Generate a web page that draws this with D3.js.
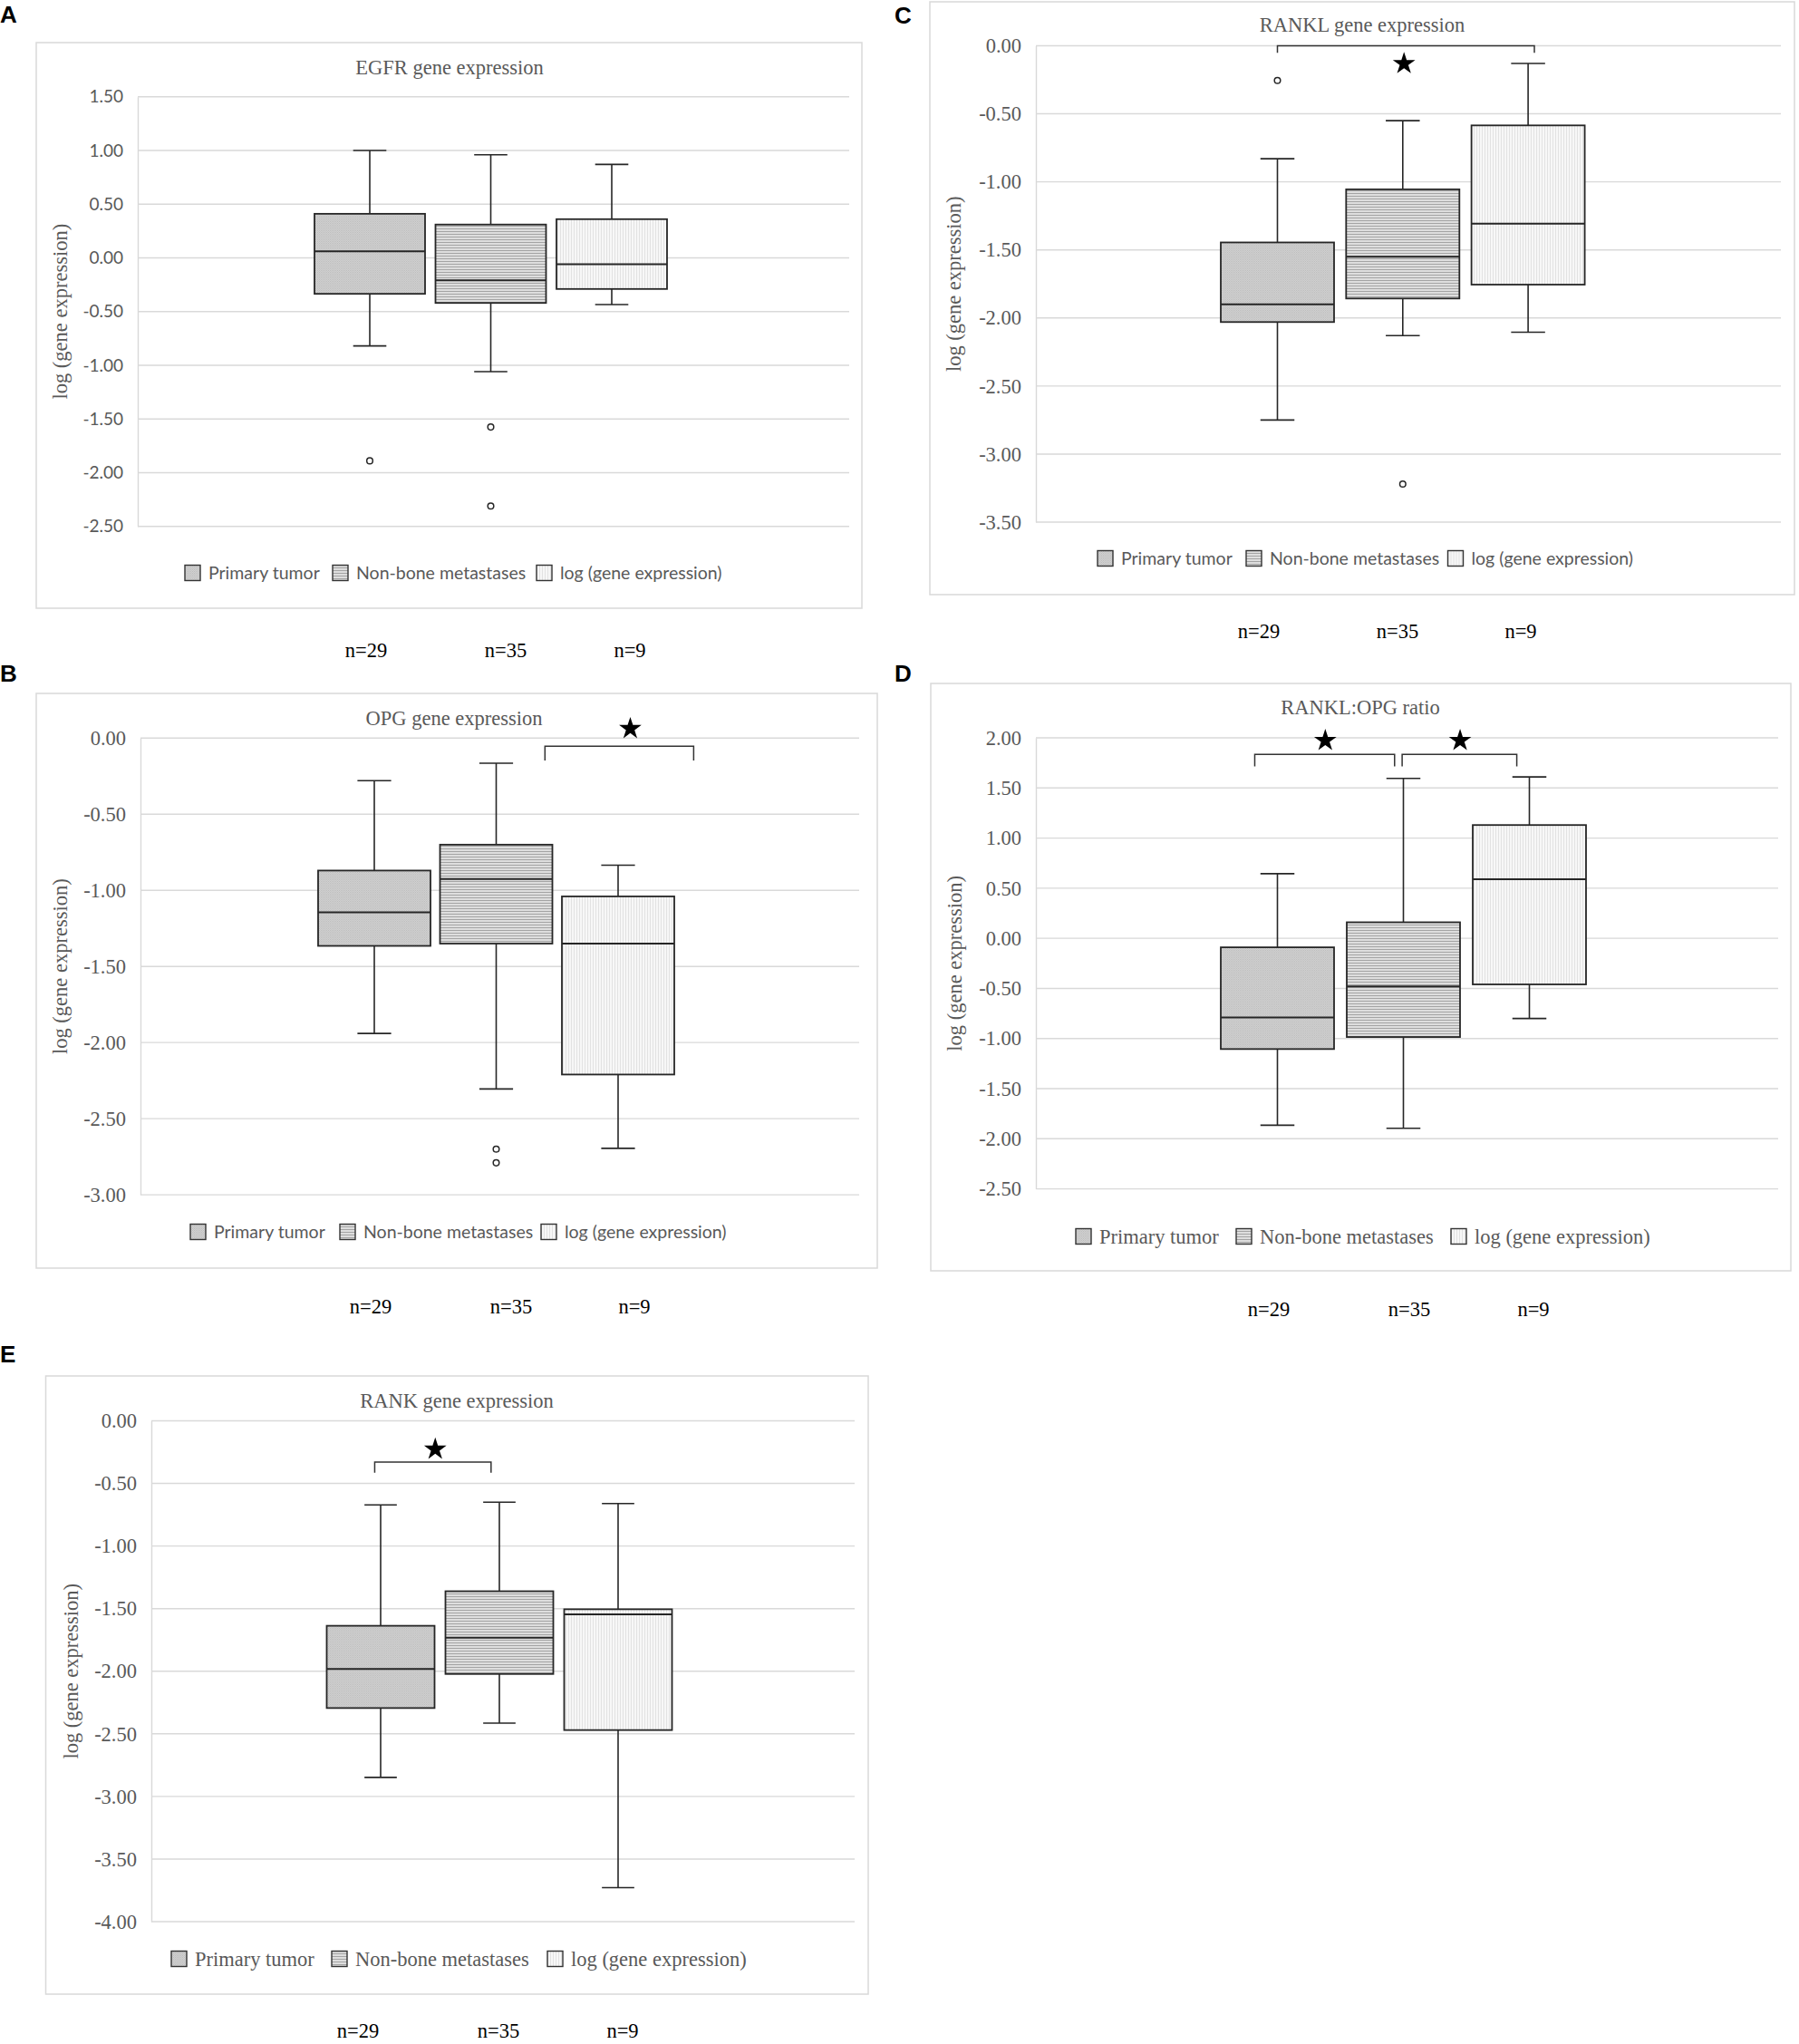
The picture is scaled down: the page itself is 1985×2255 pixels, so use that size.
<!DOCTYPE html>
<html>
<head>
<meta charset="utf-8">
<title>Gene expression box plots</title>
<script src="https://cdn.jsdelivr.net/npm/d3@7"></script>
<style>
  body { margin: 0; background: #fff; }
  svg { display: block; }
</style>
</head>
<body>
<svg id="fig" width="1985" height="2255"></svg>
<script>
// series shown in every panel and their group sizes
const groups = ["Primary tumor", "Non-bone metastases", "log (gene expression)"];
const groupN = ["n=29", "n=35", "n=9"];

// A - EGFR
const egfrTicks = [1.5, 1, 0.5, 0, -0.5, -1, -1.5, -2, -2.5];
const egfrHigh = [1.00, 0.96, 0.87];
const egfrQ3 = [0.41, 0.31, 0.36];
const egfrMedian = [0.06, -0.21, -0.06];
const egfrQ1 = [-0.335, -0.42, -0.29];
const egfrLow = [-0.82, -1.06, -0.435];
const egfrOutliers = [[-1.89], [-1.575, -2.31], []];
const egfrSig = [];

// B - OPG
const opgTicks = [0, -0.5, -1, -1.5, -2, -2.5, -3];
const opgHigh = [-0.28, -0.165, -0.835];
const opgQ3 = [-0.87, -0.70, -1.04];
const opgMedian = [-1.145, -0.925, -1.35];
const opgQ1 = [-1.365, -1.35, -2.21];
const opgLow = [-1.94, -2.305, -2.695];
const opgOutliers = [[], [-2.70, -2.79], []];
const opgSig = [{ from: 1.40, to: 2.62, y: -0.054, end: -0.147, star: 2.10, starY: 0.062 }];

// C - RANKL
const ranklTicks = [0, -0.5, -1, -1.5, -2, -2.5, -3, -3.5];
const ranklHigh = [-0.83, -0.55, -0.13];
const ranklQ3 = [-1.445, -1.055, -0.585];
const ranklMedian = [-1.90, -1.55, -1.307];
const ranklQ1 = [-2.03, -1.857, -1.755];
const ranklLow = [-2.75, -2.13, -2.105];
const ranklOutliers = [[-0.255], [-3.22], []];
const ranklSig = [{ from: 0, to: 2.05, y: 0, end: -0.052, star: 1.01, starY: -0.132 }];

// D - RANKL:OPG ratio
const ratioTicks = [2, 1.5, 1, 0.5, 0, -0.5, -1, -1.5, -2, -2.5];
const ratioHigh = [0.645, 1.595, 1.61];
const ratioQ3 = [-0.09, 0.16, 1.13];
const ratioMedian = [-0.79, -0.48, 0.59];
const ratioQ1 = [-1.105, -0.985, -0.46];
const ratioLow = [-1.865, -1.895, -0.80];
const ratioOutliers = [[], [], []];
const ratioSig = [
  { from: -0.18, to: 0.93, y: 1.835, end: 1.715, star: 0.38, starY: 1.973 },
  { from: 0.99, to: 1.90, y: 1.835, end: 1.715, star: 1.45, starY: 1.973 }
];

// E - RANK
const rankTicks = [0, -0.5, -1, -1.5, -2, -2.5, -3, -3.5, -4];
const rankHigh = [-0.672, -0.65, -0.661];
const rankQ3 = [-1.637, -1.361, -1.505];
const rankMedian = [-1.982, -1.732, -1.545];
const rankQ1 = [-2.294, -2.022, -2.47];
const rankLow = [-2.848, -2.415, -3.728];
const rankOutliers = [[], [], []];
const rankSig = [{ from: -0.05, to: 0.93, y: -0.33, end: -0.415, star: 0.46, starY: -0.227 }];

const SERIF = "'Liberation Serif', 'Times New Roman', serif";
const SANS = "Lato, 'Open Sans', sans-serif";
const GREY = "#595959";
const LINE = "#262626";

const fmt = d3.formatLocale({ decimal: ".", thousands: ",", grouping: [3], currency: ["", ""], minus: "-" }).format(".2f");

const panels = [
  { letter: "A", letterPos: [0, 25], title: "EGFR gene expression", titlePos: [496, 74],
    ticks: egfrTicks, high: egfrHigh, q3: egfrQ3, median: egfrMedian, q1: egfrQ1, low: egfrLow,
    outliers: egfrOutliers, sig: egfrSig,
    frame: [40, 47, 951, 671], plotX: [152, 937], plotY: [106.7, 580.7], box: [408, 133.5, 122],
    yLabelX: 66, tickSerif: false, legendSerif: false, legendY: 632, legendX: [204, 367, 592],
    nY: 717, nX: [404, 558, 695] },
  { letter: "B", letterPos: [0, 752], title: "OPG gene expression", titlePos: [501, 792],
    ticks: opgTicks, high: opgHigh, q3: opgQ3, median: opgMedian, q1: opgQ1, low: opgLow,
    outliers: opgOutliers, sig: opgSig,
    frame: [40, 765, 968, 1399], plotX: [155, 948], plotY: [814.3, 1318.1], box: [413, 134.5, 124],
    yLabelX: 66, tickSerif: true, legendSerif: false, legendY: 1359, legendX: [210, 375, 597],
    nY: 1441, nX: [409, 564, 700] },
  { letter: "C", letterPos: [987, 26], title: "RANKL gene expression", titlePos: [1503, 27],
    ticks: ranklTicks, high: ranklHigh, q3: ranklQ3, median: ranklMedian, q1: ranklQ1, low: ranklLow,
    outliers: ranklOutliers, sig: ranklSig,
    frame: [1026, 2, 1980, 656], plotX: [1143, 1965], plotY: [50.5, 576], box: [1409.5, 138.3, 125],
    yLabelX: 1052, tickSerif: true, legendSerif: false, legendY: 616, legendX: [1211, 1375, 1597.5],
    nY: 696, nX: [1389, 1542, 1678] },
  { letter: "D", letterPos: [987, 752], title: "RANKL:OPG ratio", titlePos: [1501, 780],
    ticks: ratioTicks, high: ratioHigh, q3: ratioQ3, median: ratioMedian, q1: ratioQ1, low: ratioLow,
    outliers: ratioOutliers, sig: ratioSig,
    frame: [1027, 754, 1976, 1402], plotX: [1143, 1962], plotY: [814, 1311.6], box: [1409.5, 139, 125],
    yLabelX: 1053, tickSerif: true, legendSerif: true, legendY: 1364, legendX: [1187, 1364, 1601],
    nY: 1444, nX: [1400, 1555, 1692] },
  { letter: "E", letterPos: [0, 1503], title: "RANK gene expression", titlePos: [504, 1545],
    ticks: rankTicks, high: rankHigh, q3: rankQ3, median: rankMedian, q1: rankQ1, low: rankLow,
    outliers: rankOutliers, sig: rankSig,
    frame: [50.5, 1518, 958, 2200], plotX: [167, 943], plotY: [1567.5, 2120], box: [420, 131, 119],
    yLabelX: 78, tickSerif: true, legendSerif: true, legendY: 2161, legendX: [189, 366, 604],
    nY: 2240, nX: [395, 550, 687] }
];

const svg = d3.select("#fig");
svg.append("rect").attr("width", 1985).attr("height", 2255).attr("fill", "#fff");

// hatch fills used for the three series
const defs = svg.append("defs");
const p0 = defs.append("pattern").attr("id", "pat0").attr("patternUnits", "userSpaceOnUse").attr("width", 2).attr("height", 2);
p0.append("rect").attr("width", 2).attr("height", 2).attr("fill", "#d2d2d2");
p0.append("rect").attr("width", 1).attr("height", 1).attr("fill", "#bcbcbc");
p0.append("rect").attr("x", 1).attr("y", 1).attr("width", 1).attr("height", 1).attr("fill", "#c4c4c4");
const p1 = defs.append("pattern").attr("id", "pat1").attr("patternUnits", "userSpaceOnUse").attr("width", 4).attr("height", 3);
p1.append("rect").attr("width", 4).attr("height", 3).attr("fill", "#dedede");
p1.append("rect").attr("width", 4).attr("height", 1).attr("fill", "#a4a4a4");
const p2 = defs.append("pattern").attr("id", "pat2").attr("patternUnits", "userSpaceOnUse").attr("width", 3).attr("height", 4);
p2.append("rect").attr("width", 3).attr("height", 4).attr("fill", "#f7f7f7");
p2.append("rect").attr("width", 1).attr("height", 4).attr("fill", "#e2e2e2");

const star = d3.symbol(d3.symbolStar, 190);

function drawPanel(p) {
  const g = svg.append("g");

  g.append("text")
    .attr("x", p.letterPos[0]).attr("y", p.letterPos[1])
    .attr("font-family", "'Liberation Sans', Arial, sans-serif")
    .attr("font-weight", "bold").attr("font-size", 26).attr("fill", "#000")
    .text(p.letter);

  g.append("rect")
    .attr("x", p.frame[0]).attr("y", p.frame[1])
    .attr("width", p.frame[2] - p.frame[0]).attr("height", p.frame[3] - p.frame[1])
    .attr("fill", "#fff").attr("stroke", "#d9d9d9").attr("stroke-width", 1.5);

  const y = d3.scaleLinear()
    .domain([d3.min(p.ticks), d3.max(p.ticks)])
    .range([p.plotY[1], p.plotY[0]]);
  // box position by group index (fractional indices used for brackets)
  const xi = d3.scaleLinear().domain([0, 2]).range([p.box[0], p.box[0] + 2 * p.box[1]]);
  const bw = p.box[2];
  const cap = bw * 0.3;

  // gridlines
  g.append("g").selectAll("line").data(p.ticks).join("line")
    .attr("x1", p.plotX[0]).attr("x2", p.plotX[1])
    .attr("y1", d => y(d)).attr("y2", d => y(d))
    .attr("stroke", "#d9d9d9").attr("stroke-width", 1.4);

  const ax = g.append("g")
    .attr("transform", `translate(${p.plotX[0]},0)`)
    .call(d3.axisLeft(y).tickValues(p.ticks).tickFormat(fmt).tickSize(0).tickSizeOuter(0).tickPadding(16));
  ax.select(".domain").attr("stroke", "#d9d9d9").attr("stroke-width", 1.4);
  ax.selectAll("text")
    .attr("font-family", p.tickSerif ? SERIF : SANS)
    .attr("font-size", p.tickSerif ? 22.5 : 19)
    .attr("fill", GREY);

  g.append("text")
    .attr("x", p.titlePos[0]).attr("y", p.titlePos[1]).attr("dy", "0.35em")
    .attr("text-anchor", "middle")
    .attr("font-family", SERIF).attr("font-size", 22.5).attr("fill", GREY)
    .text(p.title);

  g.append("text")
    .attr("transform", `translate(${p.yLabelX},${(p.plotY[0] + p.plotY[1]) / 2}) rotate(-90)`)
    .attr("dy", "0.35em").attr("text-anchor", "middle")
    .attr("font-family", SERIF).attr("font-size", 22.5).attr("fill", GREY)
    .text("log (gene expression)");

  const rows = groups.map((name, i) => ({
    i, name, high: p.high[i], q3: p.q3[i], median: p.median[i], q1: p.q1[i], low: p.low[i], out: p.outliers[i]
  }));

  const bx = g.append("g").selectAll("g").data(rows).join("g");
  bx.append("line")
    .attr("x1", d => xi(d.i)).attr("x2", d => xi(d.i))
    .attr("y1", d => y(d.high)).attr("y2", d => y(d.q3))
    .attr("stroke", LINE).attr("stroke-width", 1.6);
  bx.append("line")
    .attr("x1", d => xi(d.i)).attr("x2", d => xi(d.i))
    .attr("y1", d => y(d.q1)).attr("y2", d => y(d.low))
    .attr("stroke", LINE).attr("stroke-width", 1.6);
  bx.append("line")
    .attr("x1", d => xi(d.i) - cap / 2).attr("x2", d => xi(d.i) + cap / 2)
    .attr("y1", d => y(d.high)).attr("y2", d => y(d.high))
    .attr("stroke", LINE).attr("stroke-width", 1.6);
  bx.append("line")
    .attr("x1", d => xi(d.i) - cap / 2).attr("x2", d => xi(d.i) + cap / 2)
    .attr("y1", d => y(d.low)).attr("y2", d => y(d.low))
    .attr("stroke", LINE).attr("stroke-width", 1.6);
  bx.append("rect")
    .attr("x", d => xi(d.i) - bw / 2).attr("width", bw)
    .attr("y", d => y(d.q3)).attr("height", d => y(d.q1) - y(d.q3))
    .attr("fill", d => `url(#pat${d.i})`)
    .attr("stroke", LINE).attr("stroke-width", 1.8);
  bx.append("line")
    .attr("x1", d => xi(d.i) - bw / 2).attr("x2", d => xi(d.i) + bw / 2)
    .attr("y1", d => y(d.median)).attr("y2", d => y(d.median))
    .attr("stroke", LINE).attr("stroke-width", 2);
  bx.selectAll("circle").data(d => d.out.map(v => ({ i: d.i, v }))).join("circle")
    .attr("cx", d => xi(d.i)).attr("cy", d => y(d.v)).attr("r", 3.3)
    .attr("fill", "#fff").attr("stroke", LINE).attr("stroke-width", 1.5);

  // significance brackets and stars
  const sg = g.append("g").selectAll("g").data(p.sig).join("g");
  sg.append("path")
    .attr("d", d => `M${xi(d.from)},${y(d.end)}V${y(d.y)}H${xi(d.to)}V${y(d.end)}`)
    .attr("fill", "none").attr("stroke", "#333").attr("stroke-width", 1.5);
  sg.append("path")
    .attr("transform", d => `translate(${xi(d.star)},${y(d.starY)})`)
    .attr("d", star).attr("fill", "#000");

  // legend
  const lg = g.append("g").selectAll("g").data(groups).join("g")
    .attr("transform", (d, i) => `translate(${p.legendX[i]},${p.legendY})`);
  lg.append("rect")
    .attr("x", 0).attr("y", -8.5).attr("width", 17).attr("height", 17)
    .attr("fill", (d, i) => `url(#pat${i})`)
    .attr("stroke", "#333").attr("stroke-width", 1.4);
  lg.append("text")
    .attr("x", 26).attr("dy", "0.35em")
    .attr("font-family", p.legendSerif ? SERIF : SANS)
    .attr("font-size", p.legendSerif ? 22.5 : 19.5)
    .attr("fill", GREY)
    .text(d => d);

  // group sizes under the frame
  g.append("g").selectAll("text").data(groupN).join("text")
    .attr("x", (d, i) => p.nX[i]).attr("y", p.nY).attr("dy", "0.35em")
    .attr("text-anchor", "middle")
    .attr("font-family", SERIF).attr("font-size", 22.5).attr("fill", "#000")
    .text(d => d);
}

panels.forEach(drawPanel);
</script>
</body>
</html>
